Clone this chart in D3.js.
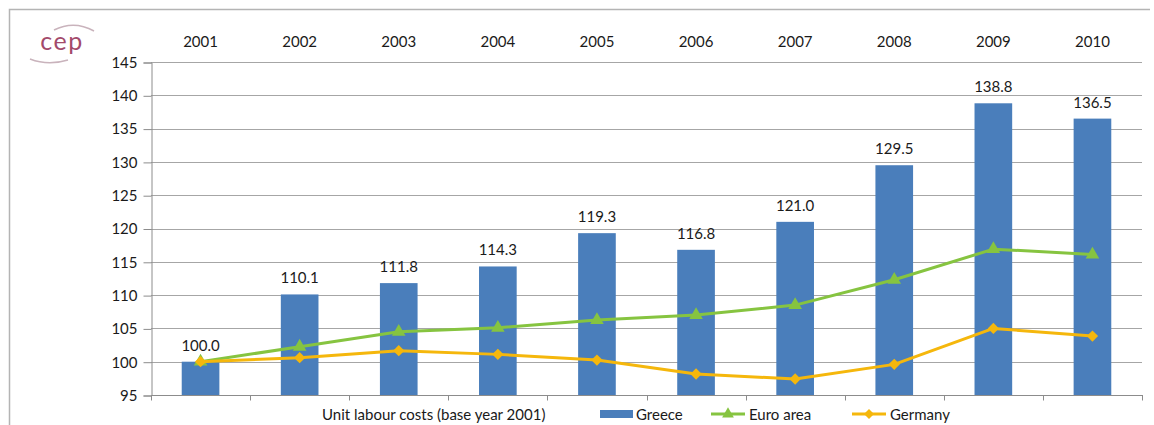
<!DOCTYPE html>
<html>
<head>
<meta charset="utf-8">
<script src="https://cdn.jsdelivr.net/npm/d3@7"></script>
<style>
  html, body { margin: 0; padding: 0; background: #fff; }
  svg { display: block; font-family: Lato, "Liberation Sans", sans-serif; }
</style>
</head>
<body>
<svg id="chart" width="1154" height="425"></svg>
<script>
// Unit labour costs, index 2001 = 100
const years = ["2001", "2002", "2003", "2004", "2005", "2006", "2007", "2008", "2009", "2010"];
const greece = [100.0, 110.1, 111.8, 114.3, 119.3, 116.8, 121.0, 129.5, 138.8, 136.5];
const euroArea = [100.0, 102.25, 104.5, 105.1, 106.25, 107.0, 108.5, 112.3, 116.9, 116.1];
const germany = [100.0, 100.6, 101.65, 101.1, 100.25, 98.15, 97.4, 99.6, 105.0, 103.85];
const yTicks = [95, 100, 105, 110, 115, 120, 125, 130, 135, 140, 145];
const legendTitle = "Unit labour costs (base year 2001)";
const seriesNames = ["Greece", "Euro area", "Germany"];

const colors = { bar: "#4a7ebb", euro: "#86c440", germany: "#f5b70c", grid: "#a6a6a6", text: "#1a1a1a" };
const fs = 15;

const svg = d3.select("#chart");
const plot = { left: 151, right: 1142, top: 62, bottom: 395 };

const x = d3.scaleBand().domain(years).range([plot.left, plot.right]).padding(0);
const y = d3.scaleLinear().domain([95, 145]).range([plot.bottom, plot.top]);
const barFrac = 0.38;

// outer frame (top and left edges)
svg.append("path")
  .attr("d", "M9.5,425 V9.5 H1150")
  .attr("fill", "none").attr("stroke", "#b4b4b4").attr("stroke-width", 1.5);

// logo
const logo = svg.append("g").attr("transform", "translate(62,50)");
logo.append("text").attr("text-anchor", "middle").attr("y", 0)
  .attr("font-size", 25).attr("fill", "#a34a6b").attr("letter-spacing", 1.5).text("cep");
logo.append("path").attr("d", "M-8,-20 Q12,-30 32,-19").attr("fill", "none")
  .attr("stroke", "#c9b3bc").attr("stroke-width", 1.5);
logo.append("path").attr("d", "M-32,9 Q-14,16 6,10").attr("fill", "none")
  .attr("stroke", "#c9b3bc").attr("stroke-width", 1.5);

// gridlines
svg.append("g").selectAll("line").data(yTicks.slice(1)).join("line")
  .attr("x1", plot.left).attr("x2", plot.right)
  .attr("y1", d => Math.round(y(d)) + 0.5).attr("y2", d => Math.round(y(d)) + 0.5)
  .attr("stroke", colors.grid).attr("stroke-width", 1);

// y axis
const yAxis = svg.append("g").attr("transform", `translate(${plot.left + 0.5},0.5)`)
  .call(d3.axisLeft(y).tickValues(yTicks).tickSize(8).tickPadding(6).tickFormat(d3.format("d")));
yAxis.select(".domain").attr("stroke", "#8c8c8c");
yAxis.selectAll(".tick line").attr("stroke", "#8c8c8c");
yAxis.selectAll("text").attr("font-size", fs).attr("fill", colors.text).attr("font-family", "Lato, sans-serif");

// x axis with ticks between categories
const xAxisG = svg.append("g").attr("transform", `translate(0,${plot.bottom + 0.5})`);
xAxisG.append("line").attr("x1", plot.left).attr("x2", plot.right + 1).attr("stroke", "#8c8c8c");
const boundaries = years.map(d => x(d)).concat([x(years[years.length - 1]) + x.bandwidth()]);
xAxisG.selectAll("line.tk").data(boundaries).join("line").attr("class", "tk")
  .attr("x1", d => Math.round(d) + 0.5).attr("x2", d => Math.round(d) + 0.5)
  .attr("y1", 0).attr("y2", 5).attr("stroke", "#8c8c8c");

// year labels on top
svg.append("g").selectAll("text").data(years).join("text")
  .attr("x", d => x(d) + x.bandwidth() / 2).attr("y", 47)
  .attr("text-anchor", "middle").attr("font-size", fs).attr("fill", colors.text).text(d => d);

// bars
const rows = years.map((yr, i) => ({ yr, g: greece[i], e: euroArea[i], de: germany[i] }));
svg.append("g").selectAll("rect").data(rows).join("rect")
  .attr("x", d => x(d.yr) + x.bandwidth() * (1 - barFrac) / 2)
  .attr("width", x.bandwidth() * barFrac)
  .attr("y", d => y(d.g)).attr("height", d => y(95) - y(d.g))
  .attr("fill", colors.bar);

// bar value labels
svg.append("g").selectAll("text").data(rows).join("text")
  .attr("x", d => x(d.yr) + x.bandwidth() / 2).attr("y", d => y(d.g) - 11)
  .attr("text-anchor", "middle").attr("font-size", fs).attr("fill", colors.text)
  .text(d => d3.format(".1f")(d.g));

const cx = d => x(d.yr) + x.bandwidth() / 2;
const line = key => d3.line().x(cx).y(d => y(d[key]));
const diamond = d3.symbol(d3.symbolSquare, 64);

// euro area line
svg.append("path").datum(rows).attr("d", line("e"))
  .attr("fill", "none").attr("stroke", colors.euro).attr("stroke-width", 3).attr("stroke-linejoin", "round");
svg.append("g").selectAll("path").data(rows).join("path")
  .attr("transform", d => `translate(${cx(d)},${y(d.e)})`)
  .attr("d", d3.symbol(d3.symbolTriangle, 80)).attr("fill", colors.euro);

// germany line
svg.append("path").datum(rows).attr("d", line("de"))
  .attr("fill", "none").attr("stroke", colors.germany).attr("stroke-width", 3).attr("stroke-linejoin", "round");
svg.append("g").selectAll("path").data(rows).join("path")
  .attr("transform", d => `translate(${cx(d)},${y(d.de)}) rotate(45)`)
  .attr("d", diamond).attr("fill", colors.germany);

// legend
const lg = svg.append("g").attr("font-size", fs).attr("fill", colors.text);
lg.append("text").attr("x", 322).attr("y", 420).text(legendTitle);
lg.append("rect").attr("x", 600).attr("y", 410).attr("width", 33).attr("height", 8).attr("fill", colors.bar);
lg.append("text").attr("x", 636).attr("y", 420).text(seriesNames[0]);
lg.append("line").attr("x1", 711).attr("x2", 745).attr("y1", 414).attr("y2", 414)
  .attr("stroke", colors.euro).attr("stroke-width", 3);
lg.append("path").attr("transform", "translate(728,414)").attr("d", d3.symbol(d3.symbolTriangle, 60)).attr("fill", colors.euro);
lg.append("text").attr("x", 749).attr("y", 420).text(seriesNames[1]);
lg.append("line").attr("x1", 852).attr("x2", 886).attr("y1", 414).attr("y2", 414)
  .attr("stroke", colors.germany).attr("stroke-width", 3);
lg.append("path").attr("transform", "translate(869,414) rotate(45)").attr("d", d3.symbol(d3.symbolSquare, 50)).attr("fill", colors.germany);
lg.append("text").attr("x", 890).attr("y", 420).text(seriesNames[2]);
</script>
</body>
</html>
